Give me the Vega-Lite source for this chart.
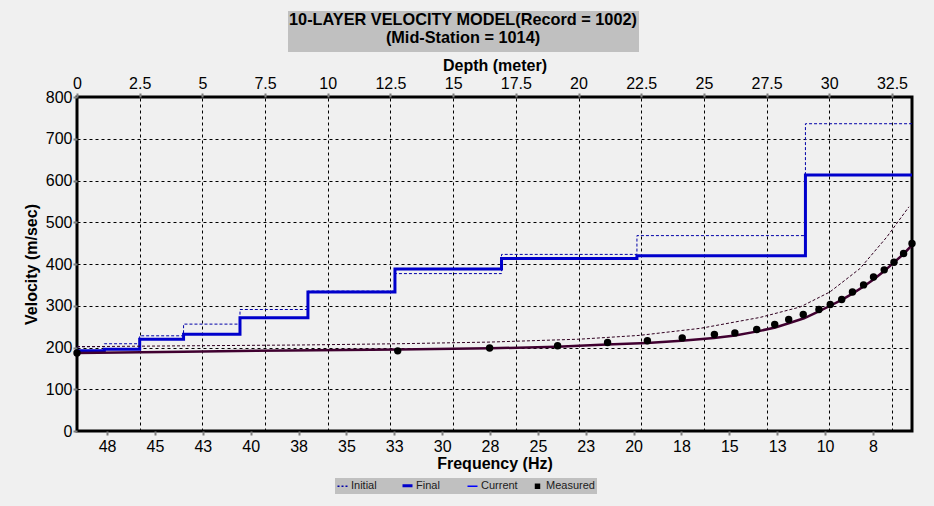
{
  "$schema": "https://vega.github.io/schema/vega-lite/v6.json",
  "autosize": {"type": "none"},
  "padding": {"left": 77, "top": 97, "right": 22, "bottom": 75},
  "width": 835,
  "height": 334,
  "background": "#f0f0f0",
  "config": {
    "font": "Liberation Sans",
    "view": {"stroke": "#000000", "strokeWidth": 3},
    "axis": {
      "labelFont": "Liberation Sans", "labelFontSize": 16, "labelColor": "#000000",
      "titleFont": "Liberation Sans", "titleFontSize": 16, "titleFontWeight": "bold", "titleColor": "#000000",
      "tickColor": "#808080", "tickSize": 4, "tickWidth": 2, "domain": false,
      "gridColor": "#000000", "gridDash": [3, 3], "gridWidth": 1, "gridOpacity": 1
    },
    "legend": {"labelFont": "Liberation Sans", "titleFont": "Liberation Sans"}
  },
  "datasets": {
    "initialModel": [
      {"model": "Initial", "depth": 0, "vel": 202},
      {"model": "Initial", "depth": 1.09, "vel": 209},
      {"model": "Initial", "depth": 2.5, "vel": 228},
      {"model": "Initial", "depth": 4.25, "vel": 256},
      {"model": "Initial", "depth": 6.5, "vel": 291},
      {"model": "Initial", "depth": 9.21, "vel": 335},
      {"model": "Initial", "depth": 12.68, "vel": 377},
      {"model": "Initial", "depth": 16.93, "vel": 423},
      {"model": "Initial", "depth": 22.33, "vel": 468},
      {"model": "Initial", "depth": 29.05, "vel": 736},
      {"model": "Initial", "depth": 33.3, "vel": 736}
    ],
    "currentModel": [
      {"model": "Current", "depth": 0, "vel": 192},
      {"model": "Current", "depth": 1.09, "vel": 196},
      {"model": "Current", "depth": 2.5, "vel": 220},
      {"model": "Current", "depth": 4.25, "vel": 232},
      {"model": "Current", "depth": 6.5, "vel": 271},
      {"model": "Current", "depth": 9.21, "vel": 333},
      {"model": "Current", "depth": 12.68, "vel": 388},
      {"model": "Current", "depth": 16.93, "vel": 413},
      {"model": "Current", "depth": 22.33, "vel": 420},
      {"model": "Current", "depth": 29.05, "vel": 613},
      {"model": "Current", "depth": 33.3, "vel": 613}
    ],
    "finalModel": [
      {"model": "Final", "depth": 0, "vel": 192},
      {"model": "Final", "depth": 1.09, "vel": 196},
      {"model": "Final", "depth": 2.5, "vel": 220},
      {"model": "Final", "depth": 4.25, "vel": 232},
      {"model": "Final", "depth": 6.5, "vel": 271},
      {"model": "Final", "depth": 9.21, "vel": 333},
      {"model": "Final", "depth": 12.68, "vel": 388},
      {"model": "Final", "depth": 16.93, "vel": 413},
      {"model": "Final", "depth": 22.33, "vel": 420},
      {"model": "Final", "depth": 29.05, "vel": 613},
      {"model": "Final", "depth": 33.3, "vel": 613}
    ],
    "initialCurve": [
      {"freq": 49.07, "vel": 202},
      {"freq": 43.5, "vel": 204},
      {"freq": 37.4, "vel": 206},
      {"freq": 32.3, "vel": 209},
      {"freq": 27.5, "vel": 213},
      {"freq": 22.8, "vel": 220},
      {"freq": 19.7, "vel": 229},
      {"freq": 16.5, "vel": 246},
      {"freq": 13.4, "vel": 272},
      {"freq": 11.3, "vel": 297},
      {"freq": 9.75, "vel": 333},
      {"freq": 8.18, "vel": 389},
      {"freq": 6.77, "vel": 465},
      {"freq": 5.62, "vel": 537}
    ],
    "finalCurve": [
      {"freq": 49.07, "vel": 187},
      {"freq": 43.5, "vel": 190},
      {"freq": 38.0, "vel": 193},
      {"freq": 32.3, "vel": 195},
      {"freq": 27.5, "vel": 198},
      {"freq": 24.0, "vel": 202},
      {"freq": 21.4, "vel": 207},
      {"freq": 19.3, "vel": 211},
      {"freq": 17.5, "vel": 216},
      {"freq": 15.8, "vel": 223},
      {"freq": 14.7, "vel": 229},
      {"freq": 13.6, "vel": 238},
      {"freq": 12.6, "vel": 248},
      {"freq": 11.9, "vel": 258},
      {"freq": 11.1, "vel": 270},
      {"freq": 10.3, "vel": 287},
      {"freq": 9.73, "vel": 300},
      {"freq": 9.13, "vel": 314},
      {"freq": 8.57, "vel": 329},
      {"freq": 7.99, "vel": 346},
      {"freq": 7.47, "vel": 363},
      {"freq": 6.91, "vel": 383},
      {"freq": 6.4, "vel": 404},
      {"freq": 5.9, "vel": 424},
      {"freq": 5.46, "vel": 445}
    ],
    "measured": [
      {"kind": "Measured", "freq": 49.07, "vel": 187},
      {"kind": "Measured", "freq": 32.32, "vel": 192},
      {"kind": "Measured", "freq": 27.52, "vel": 199},
      {"kind": "Measured", "freq": 23.97, "vel": 204},
      {"kind": "Measured", "freq": 21.36, "vel": 212},
      {"kind": "Measured", "freq": 19.28, "vel": 216},
      {"kind": "Measured", "freq": 17.46, "vel": 223},
      {"kind": "Measured", "freq": 15.78, "vel": 231},
      {"kind": "Measured", "freq": 14.71, "vel": 235},
      {"kind": "Measured", "freq": 13.57, "vel": 243},
      {"kind": "Measured", "freq": 12.63, "vel": 255},
      {"kind": "Measured", "freq": 11.9, "vel": 267},
      {"kind": "Measured", "freq": 11.14, "vel": 279},
      {"kind": "Measured", "freq": 10.32, "vel": 291},
      {"kind": "Measured", "freq": 9.73, "vel": 303},
      {"kind": "Measured", "freq": 9.13, "vel": 315},
      {"kind": "Measured", "freq": 8.57, "vel": 333},
      {"kind": "Measured", "freq": 7.99, "vel": 350},
      {"kind": "Measured", "freq": 7.47, "vel": 369},
      {"kind": "Measured", "freq": 6.91, "vel": 386},
      {"kind": "Measured", "freq": 6.4, "vel": 404},
      {"kind": "Measured", "freq": 5.9, "vel": 425},
      {"kind": "Measured", "freq": 5.46, "vel": 449}
    ]
  },
  "encoding": {
    "y": {
      "field": "vel", "type": "quantitative",
      "scale": {"domain": [0, 800], "nice": false, "zero": true},
      "axis": {
        "title": "Velocity (m/sec)", "values": [0, 100, 200, 300, 400, 500, 600, 700, 800],
        "labelPadding": 1, "titlePadding": 6, "grid": true
      }
    }
  },
  "layer": [
    {
      "encoding": {
        "x": {
          "field": "depth", "type": "quantitative",
          "scale": {"domain": [0, 33.3], "nice": false, "zero": false},
          "axis": {
            "orient": "top", "title": "Depth (meter)",
            "values": [0, 2.5, 5, 7.5, 10, 12.5, 15, 17.5, 20, 22.5, 25, 27.5, 30, 32.5],
            "labelExpr": "format(datum.value, '~g')",
            "labelPadding": 2, "titlePadding": 2, "grid": true, "labelFlush": false, "labelOverlap": false
          }
        },
        "color": {
          "field": "model", "type": "nominal",
          "scale": {"domain": ["Initial", "Final", "Current", "Measured"], "range": ["#0000a8", "#0000cc", "#0000ff", "#000000"]},
          "legend": {
            "orient": "none", "legendX": 258, "legendY": 381,
            "direction": "horizontal", "columns": 4, "gridAlign": "all",
            "title": null, "fillColor": "#c0c0c0", "padding": 2,
            "labelFontSize": 11, "labelColor": "#202020", "labelOffset": 3,
            "symbolType": "stroke", "symbolSize": 64, "columnPadding": -4,
            "encode": {
              "symbols": {
                "update": {
                  "shape": {"signal": "datum.value === 'Measured' ? 'square' : 'stroke'"},
                  "strokeDash": {"signal": "datum.value === 'Initial' ? [2, 2] : [1, 0]"},
                  "strokeWidth": {"signal": "datum.value === 'Final' ? 3 : (datum.value === 'Measured' ? 0 : 1.5)"},
                  "fill": {"signal": "datum.value === 'Measured' ? '#000000' : 'transparent'"},
                  "size": {"signal": "datum.value === 'Measured' ? 30 : 100"}
                }
              }
            }
          }
        }
      },
      "layer": [
        {"data": {"name": "initialModel"}, "mark": {"type": "line", "interpolate": "step-after", "strokeWidth": 1, "strokeDash": [3, 2]}},
        {"data": {"name": "currentModel"}, "mark": {"type": "line", "interpolate": "step-after", "strokeWidth": 1}},
        {"data": {"name": "finalModel"}, "mark": {"type": "line", "interpolate": "step-after", "strokeWidth": 3}}
      ]
    },
    {
      "encoding": {
        "x": {
          "field": "freq", "type": "quantitative",
          "scale": {"domain": [5.46, 49.07], "reverse": true, "nice": false, "zero": false},
          "axis": {
            "orient": "bottom", "title": "Frequency (Hz)",
            "values": [47.5, 45, 42.5, 40, 37.5, 35, 32.5, 30, 27.5, 25, 22.5, 20, 17.5, 15, 12.5, 10, 7.5],
            "labelExpr": "'' + round(datum.value)",
            "labelPadding": 3, "titlePadding": 1, "grid": false, "labelFlush": false, "labelOverlap": false
          }
        }
      },
      "layer": [
        {"data": {"name": "initialCurve"}, "mark": {"type": "line", "color": "#300020", "strokeWidth": 1, "strokeDash": [3, 2]}},
        {"data": {"name": "finalCurve"}, "mark": {"type": "line", "color": "#400030", "strokeWidth": 2.5}},
        {
          "data": {"name": "measured"},
          "mark": {"type": "point", "filled": true, "color": "#000000", "opacity": 1, "size": 55},
          "encoding": {
            "shape": {
              "field": "kind", "type": "nominal",
              "scale": {"domain": ["Measured"], "range": ["circle"]},
              "legend": {
                "orient": "none", "legendX": 211, "legendY": -86,
                "title": ["10-LAYER VELOCITY MODEL(Record = 1002)", "(Mid-Station = 1014)"],
                "titleFontSize": 16.3, "titleFontWeight": "bold", "titleColor": "#000000",
                "titleAlign": "center", "titleAnchor": "middle", "titleLineHeight": 17.5, "titleLimit": 1000, "titlePadding": 0,
                "titleBaseline": "top",
                "fillColor": "#c0c0c0", "padding": 1,
                "symbolSize": 0, "symbolOpacity": 0, "labelFontSize": 0, "labelExpr": "''", "labelOffset": 0
              }
            }
          }
        }
      ]
    }
  ],
  "resolve": {"scale": {"x": "independent"}, "axis": {"x": "independent"}}
}
